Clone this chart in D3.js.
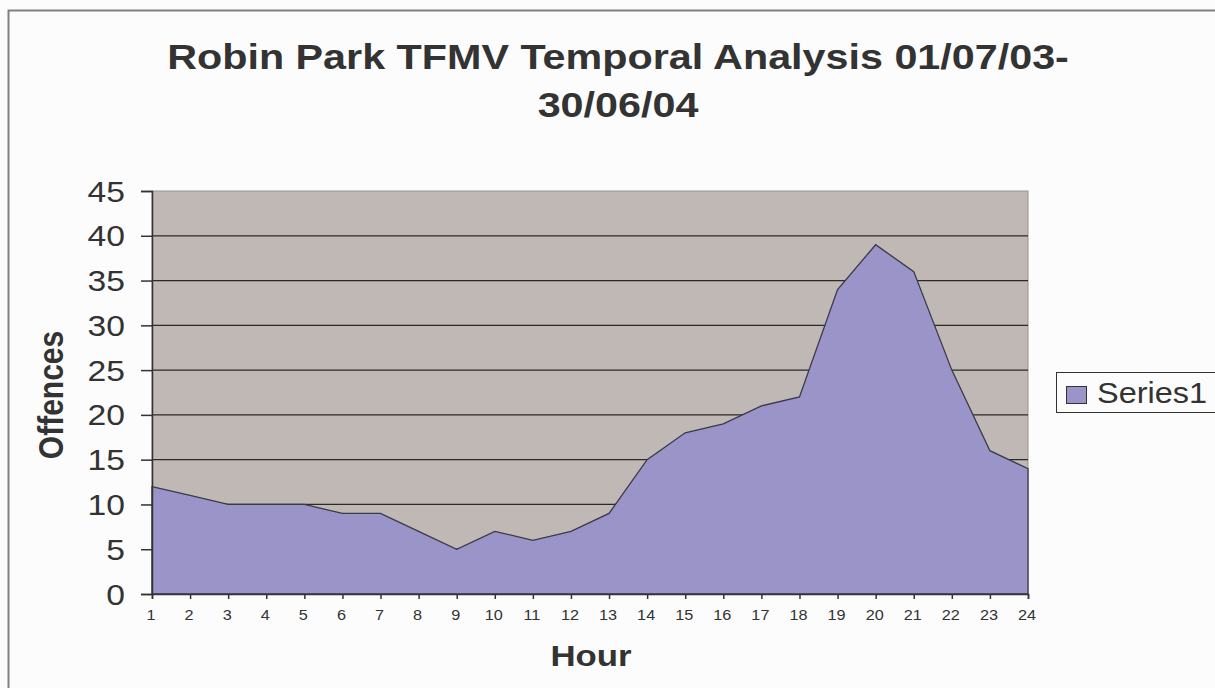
<!DOCTYPE html>
<html>
<head>
<script src="https://d3js.org/d3.v7.min.js"></script>
<style>
  body { margin: 0; background: #fcfcfc; }
  text { font-family: Arial, "Liberation Sans", sans-serif; fill: #333; }
</style>
</head>
<body>
<div id="chart"></div>
<script>
var hours = [1,2,3,4,5,6,7,8,9,10,11,12,13,14,15,16,17,18,19,20,21,22,23,24];
var offences = [12,11,10,10,10,9,9,7,5,7,6,7,9,15,18,19,21,22,34,39,36,25,16,14];
var yTicks = [0,5,10,15,20,25,30,35,40,45];
var seriesName = "Series1";

var W = 1215, H = 688;
var plot = {left: 152, top: 191, right: 1028, bottom: 594};
// the original picture is a bit stretched sideways, so text gets widened too
var sx = 1.16;

var svg = d3.select("#chart").append("svg")
  .attr("width", W).attr("height", H);

svg.append("rect")
  .attr("x", 0).attr("y", 0).attr("width", W).attr("height", H)
  .attr("fill", "#fcfcfc");

// outer chart frame
svg.append("rect")
  .attr("x", 8.5).attr("y", 10.5).attr("width", W + 20).attr("height", H + 20)
  .attr("fill", "none").attr("stroke", "#808080").attr("stroke-width", 2);

var x = d3.scaleLinear().domain([1, 24]).range([plot.left, plot.right]);
var y = d3.scaleLinear().domain([0, 45]).range([plot.bottom, plot.top]);

svg.append("rect")
  .attr("x", plot.left).attr("y", plot.top)
  .attr("width", plot.right - plot.left).attr("height", plot.bottom - plot.top)
  .attr("fill", "#c0b8b5").attr("stroke", "#9a9290");

// gridlines
svg.append("g").selectAll("line")
  .data(yTicks.filter(function(d){ return d > 0 && d < 45; }))
  .enter().append("line")
  .attr("x1", plot.left).attr("x2", plot.right)
  .attr("y1", function(d){ return y(d); }).attr("y2", function(d){ return y(d); })
  .attr("stroke", "#2a2a2a").attr("stroke-width", 1.2);

var area = d3.area()
  .x(function(d, i){ return x(hours[i]); })
  .y0(y(0))
  .y1(function(d){ return y(d); });

svg.append("path")
  .datum(offences)
  .attr("d", area)
  .attr("fill", "#9a94c8")
  .attr("stroke", "#3a3a48").attr("stroke-width", 1.3);

// y axis (labels drawn by hand so they can be stretched)
var yAxis = svg.append("g")
  .attr("transform", "translate(" + plot.left + ",0)")
  .call(d3.axisLeft(y).tickValues(yTicks).tickSize(11).tickFormat(""));
yAxis.selectAll("line, path").attr("stroke", "#333").attr("stroke-width", 1.5);

svg.append("g").selectAll("text")
  .data(yTicks)
  .enter().append("text")
  .attr("transform", function(d){ return "translate(125," + (y(d) + 10.5) + ") scale(" + sx + ",1)"; })
  .attr("text-anchor", "end")
  .style("font-size", "29px")
  .text(function(d){ return d; });

// x axis
var xAxis = svg.append("g")
  .attr("transform", "translate(0," + plot.bottom + ")")
  .call(d3.axisBottom(x).tickValues(hours).tickSize(5).tickFormat(""));
xAxis.selectAll("line, path").attr("stroke", "#333").attr("stroke-width", 1.5);

svg.append("g").selectAll("text")
  .data(hours)
  .enter().append("text")
  .attr("transform", function(d){ return "translate(" + (x(d) - 1) + ",620) scale(" + sx + ",1)"; })
  .attr("text-anchor", "middle")
  .style("font-size", "14px")
  .text(function(d){ return d; });

// titles
var title = svg.append("text")
  .attr("transform", "translate(618,0) scale(1.18,1)")
  .attr("text-anchor", "middle")
  .style("font-size", "35px").style("font-weight", "bold");
title.append("tspan").attr("x", 0).attr("y", 69).text("Robin Park TFMV Temporal Analysis 01/07/03-");
title.append("tspan").attr("x", 0).attr("y", 117).text("30/06/04");

svg.append("text")
  .attr("transform", "translate(591,666) scale(" + sx + ",1)")
  .attr("text-anchor", "middle")
  .style("font-size", "30px").style("font-weight", "bold")
  .text("Hour");

svg.append("text")
  .attr("transform", "translate(63,395) rotate(-90) scale(1," + sx + ")")
  .attr("text-anchor", "middle")
  .style("font-size", "30px").style("font-weight", "bold")
  .text("Offences");

// legend
var legend = svg.append("g");
legend.append("rect")
  .attr("x", 1056.5).attr("y", 372.5).attr("width", 180).attr("height", 40)
  .attr("fill", "#fcfcfc").attr("stroke", "#333");
legend.append("rect")
  .attr("x", 1066.5).attr("y", 386.5).attr("width", 20).attr("height", 17)
  .attr("fill", "#9a94c8").attr("stroke", "#333");
legend.append("text")
  .attr("transform", "translate(1097,403) scale(1.12,1)")
  .style("font-size", "29px")
  .text(seriesName);
</script>
</body>
</html>
